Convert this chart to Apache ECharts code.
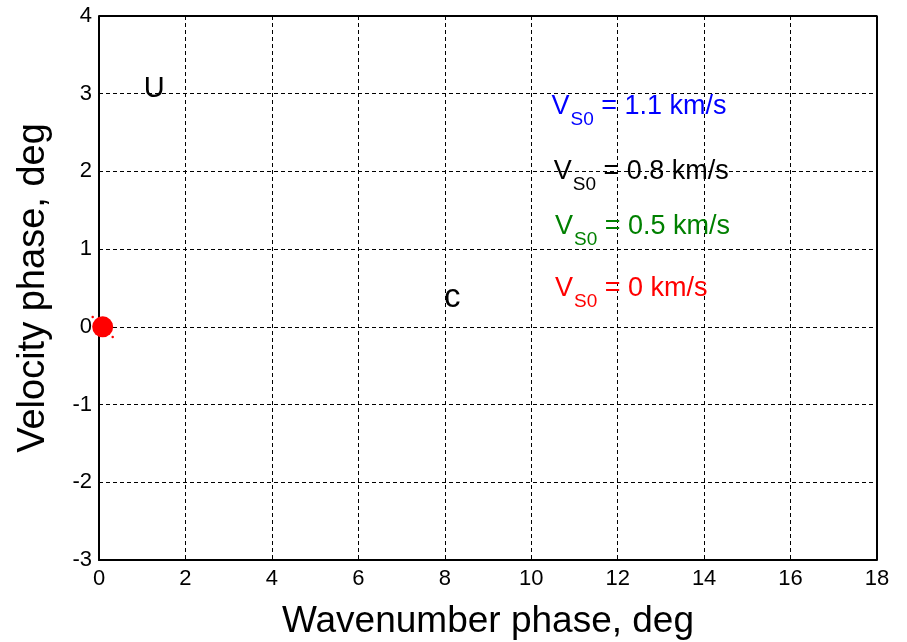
<!DOCTYPE html>
<html>
<head>
<meta charset="utf-8">
<script src="https://cdn.jsdelivr.net/npm/echarts@6/dist/echarts.min.js"></script>
<style>html,body{margin:0;padding:0;background:#fff;}#c{width:907px;height:642px;}</style>
</head>
<body>
<div id="c"></div>
<script>
// Axis ranges / ticks
var xTicks = [0, 2, 4, 6, 8, 10, 12, 14, 16, 18];
var yTicks = [-3, -2, -1, 0, 1, 2, 3, 4];

// Data points (red, V_S0 = 0 km/s)
var pointX = [0.085];
var pointY = [0.0];
var tinyX = [-0.146, 0.317];
var tinyY = [0.127, -0.13];

// Annotation labels
var labelText = ['1.1 km/s', '0.8 km/s', '0.5 km/s', '0 km/s'];
var labelColor = ['#0000ff', '#000000', '#008000', '#ff0000'];
var labelX = [10.47, 10.52, 10.55, 10.55];
var labelY = [3.01, 2.17, 1.465, 0.665];

var letterText = ['U', 'c'];
var letterSize = [29, 33];
var letterX = [1.28, 8.17];
var letterY = [3.06, 0.37];

var FONT = 'Liberation Sans, Arial, sans-serif';

var annData = labelText.map(function (t, i) {
  return {
    value: [labelX[i], labelY[i]],
    label: {
      formatter: '{v|V}{s|S0}{t| = ' + t + '}',
      rich: {
        v: { fontSize: 27, color: labelColor[i], fontFamily: FONT, verticalAlign: 'top', lineHeight: 28 },
        s: { fontSize: 19, color: labelColor[i], fontFamily: FONT, verticalAlign: 'top', padding: [17, 0, 0, 1], lineHeight: 20 },
        t: { fontSize: 27, color: labelColor[i], fontFamily: FONT, verticalAlign: 'top', lineHeight: 28 }
      }
    }
  };
});

var letterData = letterText.map(function (t, i) {
  return { value: [letterX[i], letterY[i]], label: { formatter: t, fontSize: letterSize[i] } };
});

var chart = echarts.init(document.getElementById('c'), null, { renderer: 'canvas' });
chart.setOption({
  animation: false,
  backgroundColor: '#ffffff',
  grid: { left: 99, right: 30, top: 16, bottom: 82, show: false, containLabel: false, outerBoundsMode: 'none' },
  xAxis: {
    type: 'value', min: xTicks[0], max: xTicks[xTicks.length - 1], interval: 2,
    name: 'Wavenumber phase, deg', nameLocation: 'middle', nameGap: 43,
    nameTextStyle: { fontSize: 37, color: '#000', fontFamily: FONT },
    axisLine: { show: true, onZero: false, lineStyle: { color: '#000', width: 2 } },
    axisTick: { show: false },
    axisLabel: { fontSize: 22, color: '#000', fontFamily: FONT, margin: 8 },
    splitLine: { show: true, lineStyle: { color: '#000', type: [4, 3], width: 1 } }
  },
  yAxis: {
    type: 'value', min: yTicks[0], max: yTicks[yTicks.length - 1], interval: 1,
    name: 'Velocity phase, deg', nameLocation: 'middle', nameGap: 46,
    nameTextStyle: { fontSize: 38, color: '#000', fontFamily: FONT },
    axisLine: { show: true, onZero: false, lineStyle: { color: '#000', width: 2 } },
    axisTick: { show: false },
    axisLabel: { fontSize: 22, color: '#000', fontFamily: FONT, margin: 7 },
    splitLine: { show: true, lineStyle: { color: '#000', type: [4, 3], width: 1 } }
  },
  series: [
    {
      type: 'line', data: [[xTicks[xTicks.length-1], yTicks[0]], [xTicks[xTicks.length-1], yTicks[yTicks.length-1]], [xTicks[0], yTicks[yTicks.length-1]]],
      symbol: 'none', lineStyle: { color: '#000', width: 2 }, silent: true, z: 3
    },
    {
      type: 'scatter', data: pointX.map(function (x, i) { return [x, pointY[i]]; }),
      symbol: 'circle', symbolSize: 21, itemStyle: { color: '#ff0000', opacity: 1 }, z: 5
    },
    {
      type: 'scatter', data: tinyX.map(function (x, i) { return [x, tinyY[i]]; }),
      symbol: 'circle', symbolSize: 2.5, itemStyle: { color: '#ff0000', opacity: 1 }, clip: false, z: 5
    },
    {
      type: 'scatter', data: annData, symbolSize: 0, z: 6, itemStyle: { opacity: 1 },
      label: { show: true, position: [0, 0], align: 'left', verticalAlign: 'top' }
    },
    {
      type: 'scatter', data: letterData, symbolSize: 0, z: 6, itemStyle: { opacity: 1 },
      label: { show: true, position: 'inside', color: '#000', fontFamily: FONT }
    }
  ]
});
</script>
</body>
</html>
